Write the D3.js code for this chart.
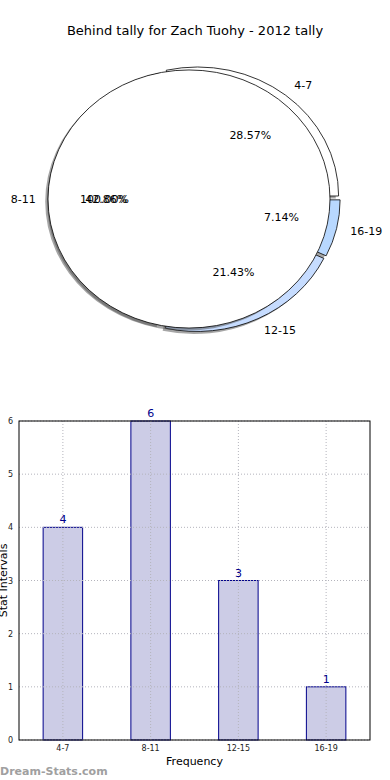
<!DOCTYPE html>
<html>
<head>
<meta charset="utf-8">
<script src="https://cdn.jsdelivr.net/npm/d3@7"></script>
<style>
  body { margin: 0; background: #fff; font-family: "DejaVu Sans", sans-serif; }
  svg { display: block; }
</style>
</head>
<body>
<script>
const width = 390,
  height = 780;

// data
const categories = ["4-7", "8-11", "12-15", "16-19"];
const counts = [4, 6, 3, 1];
const sliceColors = ["#ffffff", "#ffffff", "#c6dcff", "#b8d8ff"];
const yTicks = [0, 1, 2, 3, 4, 5, 6];
const title = "Behind tally for Zach Tuohy - 2012 tally";

const total = d3.sum(counts);
const fmtPct = (v) => d3.format(".2f")((v / total) * 100) + "%";

const svg = d3
  .select("body")
  .append("svg")
  .attr("width", width)
  .attr("height", height);

svg
  .append("text")
  .attr("x", 195)
  .attr("y", 35)
  .attr("text-anchor", "middle")
  .attr("font-size", 13)
  .text(title);

//////////// pie ////////////
const rx = 141,
  ry = 129,
  explode = 4.2,
  shadowDx = -2.8,
  shadowDy = 2.8;

// matplotlib starts at 3 o'clock and goes counter-clockwise
const pie = d3
  .pie()
  .sort(null)
  .startAngle(Math.PI / 2)
  .endAngle(Math.PI / 2 - 2 * Math.PI);

const arc = d3.arc().innerRadius(0).outerRadius(rx);

const arcs = pie(counts);
const midDir = (d) => {
  const a = (d.startAngle + d.endAngle) / 2;
  return [Math.sin(a), -Math.cos(a)];
};

const pieGroup = svg
  .append("g")
  .attr("transform", `translate(195,199) scale(1,${ry / rx})`);

// shadows first
pieGroup
  .selectAll(".shadow")
  .data(arcs)
  .enter()
  .append("path")
  .attr("class", "shadow")
  .attr("d", arc)
  .attr("fill", "#4d4d4d")
  .attr("fill-opacity", 0.5)
  .attr("transform", (d) => {
    const [dx, dy] = midDir(d);
    return `translate(${dx * explode + shadowDx},${dy * explode + shadowDy})`;
  });

pieGroup
  .selectAll(".wedge")
  .data(arcs)
  .enter()
  .append("path")
  .attr("class", "wedge")
  .attr("d", arc)
  .attr("fill", (d, i) => sliceColors[i])
  .attr("stroke", "#000")
  .attr("stroke-width", 0.8)
  .attr("vector-effect", "non-scaling-stroke")
  .attr("transform", (d) => {
    const [dx, dy] = midDir(d);
    return `translate(${dx * explode},${dy * explode})`;
  });

// second single-slice pie drawn on top (100%)
const fullArcs = pie([total]);
const fullGroup = svg
  .append("g")
  .attr("transform", `translate(189,199) scale(1,${ry / rx})`);

fullGroup
  .selectAll(".shadow")
  .data(fullArcs)
  .enter()
  .append("path")
  .attr("d", arc)
  .attr("fill", "#4d4d4d")
  .attr("fill-opacity", 0.5)
  .attr("transform", `translate(${shadowDx},${shadowDy})`);

fullGroup
  .selectAll(".wedge")
  .data(fullArcs)
  .enter()
  .append("path")
  .attr("d", arc)
  .attr("fill", "#fff")
  .attr("stroke", "#000")
  .attr("stroke-width", 0.8)
  .attr("vector-effect", "non-scaling-stroke");

// labels
const labelPos = (d, k, cx) => {
  const [dx, dy] = midDir(d);
  return [cx + dx * (rx * k + explode), 199 + dy * (rx * k + explode) * (ry / rx)];
};

svg
  .selectAll(".cat-label")
  .data(arcs)
  .enter()
  .append("text")
  .attr("class", "cat-label")
  .attr("x", (d) => labelPos(d, 1.1, 195)[0])
  .attr("y", (d) => labelPos(d, 1.1, 195)[1])
  .attr("dy", "0.35em")
  .attr("text-anchor", (d) => (midDir(d)[0] >= 0 ? "start" : "end"))
  .attr("font-size", 11)
  .text((d, i) => categories[i]);

svg
  .selectAll(".pct-label")
  .data(arcs)
  .enter()
  .append("text")
  .attr("class", "pct-label")
  .attr("x", (d) => labelPos(d, 0.6, 195)[0])
  .attr("y", (d) => labelPos(d, 0.6, 195)[1])
  .attr("dy", "0.35em")
  .attr("text-anchor", "middle")
  .attr("font-size", 11)
  .text((d) => fmtPct(d.value));

svg
  .selectAll(".full-pct")
  .data(fullArcs)
  .enter()
  .append("text")
  .attr("x", (d) => {
    const a = (d.startAngle + d.endAngle) / 2;
    return 189 + Math.sin(a) * rx * 0.6;
  })
  .attr("y", 199)
  .attr("dy", "0.35em")
  .attr("text-anchor", "middle")
  .attr("font-size", 11)
  .text((d) => fmtPct(d.value));

//////////// bar chart ////////////
const margin = { top: 421, left: 19, right: 20, bottom: 40 };
const innerWidth = width - margin.left - margin.right,
  innerHeight = 740 - margin.top;

const g = svg
  .append("g")
  .attr("transform", `translate(${margin.left},${margin.top})`);

const xScale = d3
  .scaleBand()
  .domain(categories)
  .range([0, innerWidth])
  .paddingInner(0)
  .paddingOuter(0);

const yScale = d3.scaleLinear().domain([0, 6]).range([innerHeight, 0]);

const barW = xScale.bandwidth() * 0.45;

// bars
g.selectAll(".bar")
  .data(counts)
  .enter()
  .append("rect")
  .attr("class", "bar")
  .attr("x", (d, i) => xScale(categories[i]) + xScale.bandwidth() / 2 - barW / 2)
  .attr("y", (d) => yScale(d))
  .attr("width", barW)
  .attr("height", (d) => innerHeight - yScale(d))
  .attr("fill", "#cccce6")
  .attr("stroke", "#00008b")
  .attr("stroke-width", 1);

// grid on top of bars, as matplotlib draws it
g.selectAll(".vgrid")
  .data(categories)
  .enter()
  .append("line")
  .attr("x1", (d) => xScale(d) + xScale.bandwidth() / 2)
  .attr("x2", (d) => xScale(d) + xScale.bandwidth() / 2)
  .attr("y1", 0)
  .attr("y2", innerHeight)
  .attr("stroke", "#b4b4bc")
  .attr("stroke-width", 1)
  .attr("stroke-dasharray", "1,2");

g.selectAll(".hgrid")
  .data(yTicks)
  .enter()
  .append("line")
  .attr("x1", 0)
  .attr("x2", innerWidth)
  .attr("y1", (d) => yScale(d))
  .attr("y2", (d) => yScale(d))
  .attr("stroke", "#b4b4bc")
  .attr("stroke-width", 1)
  .attr("stroke-dasharray", "1,2");

// value labels
g.selectAll(".val")
  .data(counts)
  .enter()
  .append("text")
  .attr("x", (d, i) => xScale(categories[i]) + xScale.bandwidth() / 2)
  .attr("y", (d) => yScale(d) - 4)
  .attr("text-anchor", "middle")
  .attr("font-size", 11)
  .attr("fill", "#00008b")
  .text((d) => d);

// frame
g.append("rect")
  .attr("width", innerWidth)
  .attr("height", innerHeight)
  .attr("fill", "none")
  .attr("stroke", "#000")
  .attr("stroke-width", 1);

// axes
const axisY = d3
  .axisLeft(yScale)
  .tickValues(yTicks)
  .tickFormat(d3.format("d"))
  .tickSize(0)
  .tickPadding(6);
g.append("g")
  .call(axisY)
  .call((s) => s.select(".domain").remove())
  .selectAll("text")
  .attr("font-size", 8)
  .attr("font-family", "DejaVu Sans")
  .attr("fill", "#222");

const axisX = d3.axisBottom(xScale).tickSize(0).tickPadding(5);
g.append("g")
  .attr("transform", `translate(0,${innerHeight})`)
  .call(axisX)
  .call((s) => s.select(".domain").remove())
  .selectAll("text")
  .attr("font-size", 8)
  .attr("font-family", "DejaVu Sans")
  .attr("fill", "#222");

// axis labels
svg
  .append("text")
  .attr("x", margin.left + innerWidth / 2)
  .attr("y", 765)
  .attr("text-anchor", "middle")
  .attr("font-size", 11)
  .text("Frequency");

svg
  .append("text")
  .attr("transform", `translate(3,${margin.top + innerHeight / 2}) rotate(-90)`)
  .attr("dy", "0.35em")
  .attr("text-anchor", "middle")
  .attr("font-size", 11)
  .text("Stat Intervals");

svg
  .append("text")
  .attr("x", 0)
  .attr("y", 775)
  .attr("font-size", 11)
  .attr("font-weight", "bold")
  .attr("fill", "#a0a0a0")
  .text("Dream-Stats.com");
</script>
</body>
</html>
